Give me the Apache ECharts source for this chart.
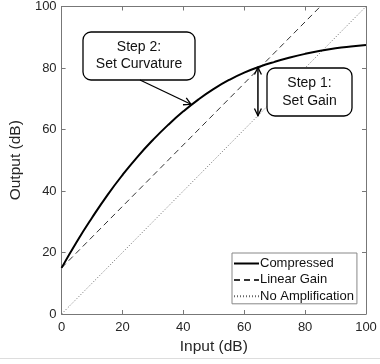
<!DOCTYPE html>
<html>
<head>
<meta charset="utf-8">
<script src="https://cdn.jsdelivr.net/npm/echarts@6/dist/echarts.min.js"></script>
<style>
  html, body { margin: 0; padding: 0; background: #fff; }
  #main { width: 380px; height: 364px; }
</style>
</head>
<body>
<div id="main"></div>
<script>
// input level (dB) and the compressed output
const inputDb = [0, 5, 10, 15, 20, 25, 30, 35, 40, 45, 50, 55, 60, 65, 70, 75, 80, 85, 90, 95, 100];
const compressedDb = [15, 23.5, 31.3, 38.6, 45.2, 51.2, 56.6, 61.5, 65.9, 69.8, 73.2, 76.1, 78.5, 80.4, 82.0, 83.4, 84.6, 85.6, 86.4, 87.0, 87.5];
// straight reference lines
const linearX = [0, 85];
const linearY = [15, 100];
const noAmpX = [0, 100];
const noAmpY = [0, 100];

// annotation anchor points (data units)
const curvatureTip = [42.5, 68.2];
const gainTop = [64.5, 80.2];
const gainBottom = [64.5, 64.5];

const pairs = (xs, ys) => xs.map((x, i) => [x, ys[i]]);

var chart = echarts.init(document.getElementById('main'));
const FONT = '"Liberation Sans", Arial, sans-serif';
const axisColor = '#777';
const textColor = '#262626';

function baseAxis(extra) {
    return Object.assign({
        type: 'value',
        min: 0,
        max: 100,
        interval: 20,
        axisLine: { show: true, onZero: false, lineStyle: { color: axisColor, width: 1 } },
        axisTick: { show: true, inside: true, length: 4, lineStyle: { color: axisColor } },
        splitLine: { show: false }
    }, extra);
}

var option = {
    animation: false,
    grid: { left: 58, right: 14, top: 6, bottom: 50 },
    xAxis: [
        baseAxis({
            position: 'bottom',
            name: 'Input (dB)',
            nameLocation: 'middle',
            nameGap: 23,
            nameTextStyle: { fontFamily: FONT, fontSize: 15.5, color: textColor },
            axisLabel: { margin: 7, fontFamily: FONT, fontSize: 13, color: textColor }
        }),
        baseAxis({ position: 'top', axisLabel: { show: false } })
    ],
    yAxis: [
        baseAxis({
            position: 'left',
            name: 'Output (dB)',
            nameLocation: 'middle',
            nameGap: 29,
            nameTextStyle: { fontFamily: FONT, fontSize: 15.5, color: textColor },
            axisLabel: { margin: 5, fontFamily: FONT, fontSize: 13, color: textColor }
        }),
        baseAxis({ position: 'right', axisLabel: { show: false } })
    ],
    legend: {
        left: 232,
        top: 253,
        orient: 'vertical',
        padding: [4, 3, 1, 1],
        itemWidth: 25,
        itemHeight: 14,
        itemGap: 3.4,
        backgroundColor: '#fff',
        borderColor: '#888',
        borderWidth: 1,
        borderRadius: 0,
        itemStyle: { opacity: 0 },
        textStyle: { fontFamily: FONT, fontSize: 13, color: '#111', padding: [0, 0, 0, -4] },
        data: ['Compressed', 'Linear Gain', 'No Amplification']
    },
    series: [
        {
            name: 'Compressed',
            type: 'line',
            smooth: true,
            symbol: 'none',
            data: pairs(inputDb, compressedDb),
            lineStyle: { color: '#000', width: 2 },
            itemStyle: { color: '#000' },
            z: 5
        },
        {
            name: 'Linear Gain',
            type: 'line',
            symbol: 'none',
            data: pairs(linearX, linearY),
            lineStyle: { color: '#333', width: 1, type: [6, 4] },
            itemStyle: { color: '#333' },
            z: 4
        },
        {
            name: 'No Amplification',
            type: 'line',
            symbol: 'none',
            data: pairs(noAmpX, noAmpY),
            lineStyle: { color: '#666', width: 1, type: [1, 2] },
            itemStyle: { color: '#666' },
            z: 3
        }
    ]
};
chart.setOption(option);

// annotations: rounded boxes and open-headed arrows
function toPx(p) {
    return chart.convertToPixel({ xAxisIndex: 0, yAxisIndex: 0 }, p);
}

function arrowHead(tip, from, len, ang) {
    var dx = from[0] - tip[0], dy = from[1] - tip[1];
    var d = Math.sqrt(dx * dx + dy * dy);
    dx /= d; dy /= d;
    var rot = function (a) {
        return [tip[0] + len * (dx * Math.cos(a) - dy * Math.sin(a)),
                tip[1] + len * (dx * Math.sin(a) + dy * Math.cos(a))];
    };
    return {
        type: 'polyline',
        z: 100,
        shape: { points: [rot(ang), tip, rot(-ang)] },
        style: { stroke: '#000', lineWidth: 1.3, fill: null }
    };
}

function box(x, y, w, h, text, lh) {
    return {
        type: 'rect',
        z: 90,
        shape: { x: x, y: y, width: w, height: h, r: 8 },
        style: { fill: '#fff', stroke: '#000', lineWidth: 1.3 },
        textContent: {
            style: {
                text: text,
                fontFamily: FONT,
                fontSize: 14,
                lineHeight: lh,
                fill: '#111',
                align: 'center',
                verticalAlign: 'middle'
            },
            z: 91
        },
        textConfig: { position: 'inside' }
    };
}

var tailCurv = [140, 80];
var tipCurv = toPx(curvatureTip);
var gTop = toPx(gainTop);
var gBot = toPx(gainBottom);

chart.setOption({
    graphic: [
        {
            type: 'line',
            z: 1,
            shape: { x1: 0, y1: 358.5, x2: 380, y2: 358.5 },
            style: { stroke: '#ddd', lineWidth: 1 }
        },
        box(83, 32, 112, 48, 'Step 2:\nSet Curvature', 17),
        box(267, 68, 85, 48, 'Step 1:\nSet Gain', 18),
        {
            type: 'line',
            z: 100,
            shape: { x1: tailCurv[0], y1: tailCurv[1], x2: tipCurv[0], y2: tipCurv[1] },
            style: { stroke: '#000', lineWidth: 1.3 }
        },
        arrowHead(tipCurv, tailCurv, 8, 0.5),
        {
            type: 'line',
            z: 100,
            shape: { x1: gTop[0], y1: gTop[1], x2: gBot[0], y2: gBot[1] },
            style: { stroke: '#000', lineWidth: 1.5 }
        },
        arrowHead(gTop, gBot, 8, 0.45),
        arrowHead(gBot, gTop, 8, 0.45)
    ]
});
</script>
</body>
</html>
